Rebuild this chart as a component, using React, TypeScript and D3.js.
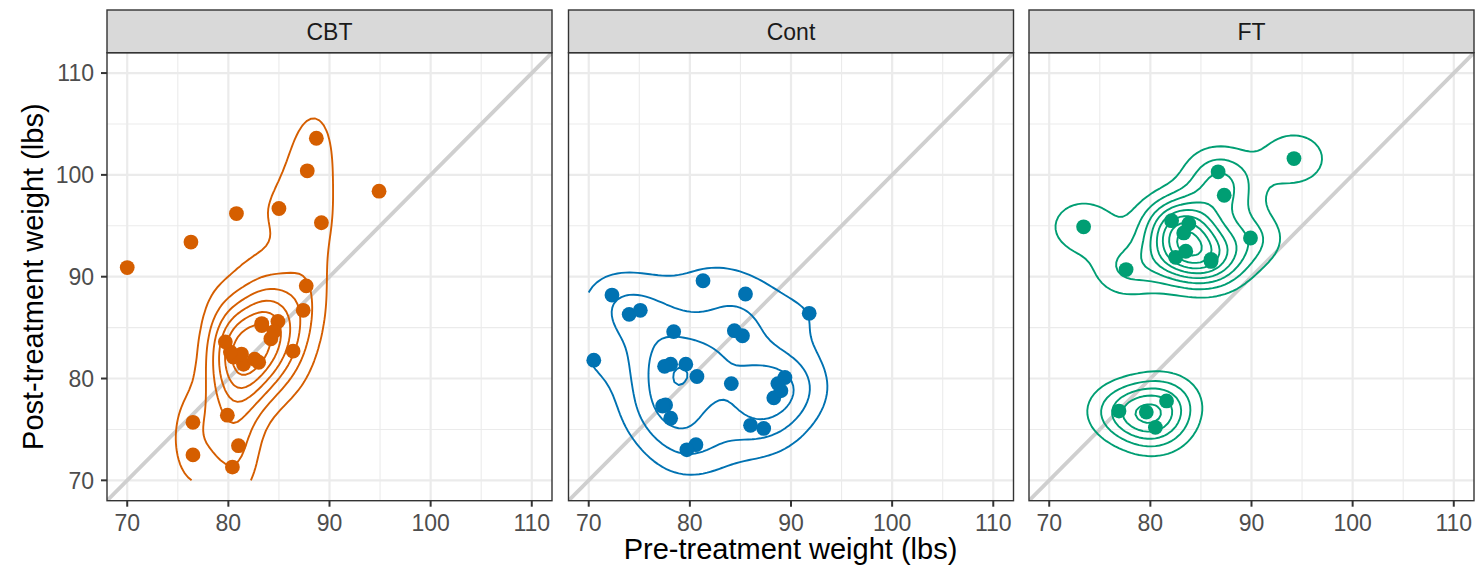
import React from "react";
import * as d3 from "d3";

// Anorexia treatment study: pre/post weights (lbs) by treatment group
const groups = ["CBT", "Cont", "FT"];

const cbtPre = [80.5, 84.9, 81.5, 82.6, 79.9, 88.7, 94.9, 76.3, 81.0, 80.5, 85.0, 89.2, 81.3, 76.5, 70.0, 80.4, 83.3, 83.0, 87.7, 84.2, 86.4, 76.5, 80.2, 87.8, 83.3, 79.7, 84.5, 80.8, 87.4];
const cbtPost = [82.2, 85.6, 81.4, 81.9, 76.4, 103.6, 98.4, 93.4, 73.4, 82.1, 96.7, 95.3, 82.4, 72.5, 90.9, 71.3, 85.4, 81.6, 89.1, 83.9, 82.7, 75.7, 82.6, 100.4, 85.2, 83.6, 84.6, 96.2, 86.7];

const contPre = [80.7, 89.4, 91.8, 74.0, 78.1, 88.3, 87.3, 75.1, 80.6, 78.4, 77.6, 88.7, 81.3, 78.1, 70.5, 77.3, 85.2, 86.0, 84.1, 79.7, 85.5, 84.4, 79.6, 77.5, 72.3, 89.0];
const contPost = [80.2, 80.1, 86.4, 86.3, 76.1, 78.1, 75.1, 86.7, 73.5, 84.6, 77.4, 79.5, 89.6, 81.4, 81.8, 77.3, 84.2, 75.4, 79.5, 73.0, 88.3, 84.7, 81.4, 81.2, 88.2, 78.8];

const ftPre = [83.8, 83.3, 86.0, 82.5, 86.7, 79.6, 76.9, 94.2, 73.4, 80.5, 81.6, 82.1, 77.6, 83.5, 89.9, 86.0, 87.3];
const ftPost = [95.2, 94.3, 91.5, 91.9, 100.3, 76.7, 76.8, 101.6, 94.9, 75.2, 77.8, 95.5, 90.7, 92.5, 93.8, 91.7, 98.0];

const groupColors = ["#D55E00", "#0072B2", "#009E73"];

const axisLimits = [70, 110];
const majorTicks = [70, 80, 90, 100, 110];
const minorTicks = [75, 85, 95, 105];

const xTitle = "Pre-treatment weight (lbs)";
const yTitle = "Post-treatment weight (lbs)";

// ---- layout ----
const W = 1477;
const H = 572;
const panelLefts = [107, 568.5, 1029];
const panelW = 445;
const panelTop = 52.7;
const panelBottom = 500.7;
const stripTop = 10;
const font = "'Liberation Sans', Arial, Helvetica, sans-serif";
const textSize = 23;
const titleSize = 29;

// ---- density estimation (bivariate normal kernel, normal-reference bandwidth) ----
function quantile7(sorted: number[], p: number) {
  const h = (sorted.length - 1) * p;
  const lo = Math.floor(h);
  const hi = Math.min(lo + 1, sorted.length - 1);
  return sorted[lo] + (h - lo) * (sorted[hi] - sorted[lo]);
}

function bandwidthNrd(x: number[]) {
  const s = [...x].sort((a, b) => a - b);
  const iqr = quantile7(s, 0.75) - quantile7(s, 0.25);
  const sd = d3.deviation(x) as number;
  return 4 * 1.06 * Math.min(sd, iqr / 1.34) * Math.pow(x.length, -0.2);
}

const dnorm = (u: number) => Math.exp(-0.5 * u * u) / Math.sqrt(2 * Math.PI);

const GRID_N = 100;

function kde2d(x: number[], y: number[]) {
  const hx = bandwidthNrd(x) / 4;
  const hy = bandwidthNrd(y) / 4;
  const [lo, hi] = axisLimits;
  const g = d3.range(GRID_N).map((i) => lo + (i * (hi - lo)) / (GRID_N - 1));
  const nx = x.length;
  const ax = g.map((gx) => x.map((xi) => dnorm((gx - xi) / hx)));
  const ay = g.map((gy) => y.map((yi) => dnorm((gy - yi) / hy)));
  const values = new Array(GRID_N * GRID_N);
  for (let j = 0; j < GRID_N; j++) {
    for (let i = 0; i < GRID_N; i++) {
      let s = 0;
      for (let k = 0; k < nx; k++) s += ax[i][k] * ay[j][k];
      values[j * GRID_N + i] = s / (nx * hx * hy);
    }
  }
  return values as number[];
}

// R-style pretty() breaks
function pretty(lo: number, up: number, ndiv = 10) {
  const h = 1.5;
  const h5 = 0.5 + 1.5 * h;
  const cell = (up - lo) / ndiv;
  const base = Math.pow(10, Math.floor(Math.log10(cell)));
  let unit = base;
  let ns = 2 * base;
  if (ns - cell < h * (cell - unit)) {
    unit = ns;
    ns = 5 * base;
    if (ns - cell < h5 * (cell - unit)) {
      unit = ns;
      ns = 10 * base;
      if (ns - cell < h * (cell - unit)) unit = ns;
    }
  }
  const a = Math.floor(lo / unit + 1e-7);
  const b = Math.ceil(up / unit - 1e-7);
  return d3.range(a, b + 1).map((k) => k * unit);
}

const groupData = [
  { pre: cbtPre, post: cbtPost },
  { pre: contPre, post: contPost },
  { pre: ftPre, post: ftPost },
];

const densities = groupData.map((d) => kde2d(d.pre, d.post));
let zMin = Infinity;
let zMax = -Infinity;
densities.forEach((v) => v.forEach((z) => { if (z < zMin) zMin = z; if (z > zMax) zMax = z; }));
const breaks = pretty(zMin, zMax, 10);

// Open isolines: contour rings with the grid-border stretches removed
function isolines(values: number[]): [number, number][][] {
  const gen = d3.contours().size([GRID_N, GRID_N]).thresholds(breaks).smooth(true);
  const res = gen(values);
  const step = (axisLimits[1] - axisLimits[0]) / (GRID_N - 1);
  const toData = (c: number[]): [number, number] => [
    axisLimits[0] + (c[0] - 0.5) * step,
    axisLimits[0] + (c[1] - 0.5) * step,
  ];
  const onEdge = (p: number[]) => p[0] <= 0 || p[0] >= GRID_N || p[1] <= 0 || p[1] >= GRID_N;
  const out: [number, number][][] = [];
  res.forEach((mp) => {
    if (mp.value <= 0) return;
    mp.coordinates.forEach((poly) =>
      poly.forEach((ring) => {
        const pts = ring.slice(0, -1);
        const start = pts.findIndex(onEdge);
        if (start < 0) {
          const closed = pts.map(toData);
          closed.push(closed[0]);
          out.push(closed);
          return;
        }
        let run: [number, number][] = [];
        for (let k = 1; k <= pts.length; k++) {
          const p = pts[(start + k) % pts.length];
          if (onEdge(p)) {
            if (run.length >= 2) out.push(run);
            run = [];
          } else run.push(toData(p));
        }
      })
    );
  });
  return out;
}

const contourLines = densities.map(isolines);

const yScale = d3.scaleLinear().domain([68, 112]).range([panelBottom, panelTop]);

function Panel({ index }: { index: number }) {
  const left = panelLefts[index];
  const xScale = d3.scaleLinear().domain([68, 112]).range([left, left + panelW]);
  const line = d3.line<[number, number]>().x((d) => xScale(d[0])).y((d) => yScale(d[1]));
  const color = groupColors[index];
  const { pre, post } = groupData[index];
  const clipId = `clip-${index}`;
  return (
    <g>
      <defs>
        <clipPath id={clipId}>
          <rect x={left} y={panelTop} width={panelW} height={panelBottom - panelTop} />
        </clipPath>
      </defs>
      <rect x={left} y={panelTop} width={panelW} height={panelBottom - panelTop} fill="#fff" />
      {minorTicks.map((t) => (
        <g key={`mn${t}`}>
          <line x1={xScale(t)} x2={xScale(t)} y1={panelTop} y2={panelBottom} stroke="#EBEBEB" strokeWidth={1.1} />
          <line x1={left} x2={left + panelW} y1={yScale(t)} y2={yScale(t)} stroke="#EBEBEB" strokeWidth={1.1} />
        </g>
      ))}
      {majorTicks.map((t) => (
        <g key={`mj${t}`}>
          <line x1={xScale(t)} x2={xScale(t)} y1={panelTop} y2={panelBottom} stroke="#EBEBEB" strokeWidth={2.2} />
          <line x1={left} x2={left + panelW} y1={yScale(t)} y2={yScale(t)} stroke="#EBEBEB" strokeWidth={2.2} />
        </g>
      ))}
      <g clipPath={`url(#${clipId})`}>
        <line x1={xScale(68)} y1={yScale(68)} x2={xScale(112)} y2={yScale(112)} stroke="#CFCFCF" strokeWidth={3.8} />
        {contourLines[index].map((l, i) => (
          <path key={i} d={line(l) as string} fill="none" stroke={color} strokeWidth={1.9} strokeLinejoin="round" strokeLinecap="butt" />
        ))}
        {pre.map((x, i) => (
          <circle key={i} cx={xScale(x)} cy={yScale(post[i])} r={7.4} fill={color} />
        ))}
      </g>
      <rect x={left} y={panelTop} width={panelW} height={panelBottom - panelTop} fill="none" stroke="#333333" strokeWidth={1.4} />
      {/* facet strip */}
      <rect x={left} y={stripTop} width={panelW} height={panelTop - stripTop} fill="#D9D9D9" stroke="#333333" strokeWidth={1.4} />
      <text x={left + panelW / 2} y={(stripTop + panelTop) / 2} dy="0.36em" textAnchor="middle" fontSize={textSize} fill="#1A1A1A" fontFamily={font}>
        {groups[index]}
      </text>
      {/* x axis */}
      {majorTicks.map((t) => (
        <g key={`xt${t}`}>
          <line x1={xScale(t)} x2={xScale(t)} y1={panelBottom} y2={panelBottom + 6} stroke="#333333" strokeWidth={2} />
          <text x={xScale(t)} y={530.5} textAnchor="middle" fontSize={textSize} fill="#4D4D4D" fontFamily={font}>
            {t}
          </text>
        </g>
      ))}
      {/* y axis on first panel only */}
      {index === 0 &&
        majorTicks.map((t) => (
          <g key={`yt${t}`}>
            <line x1={left - 6} x2={left} y1={yScale(t)} y2={yScale(t)} stroke="#333333" strokeWidth={2} />
            <text x={left - 13} y={yScale(t)} dy="0.36em" textAnchor="end" fontSize={textSize} fill="#4D4D4D" fontFamily={font}>
              {t}
            </text>
          </g>
        ))}
    </g>
  );
}

export default function App() {
  const yMid = (panelTop + panelBottom) / 2;
  const xMid = (panelLefts[0] + panelLefts[2] + panelW) / 2;
  return (
    <svg width={W} height={H} style={{ display: "block", position: "absolute", left: 0, top: 0, background: "#fff" }}>
      <rect x={0} y={0} width={W} height={H} fill="#fff" />
      {groups.map((g, i) => (
        <Panel key={g} index={i} />
      ))}
      <text x={xMid} y={559} textAnchor="middle" fontSize={titleSize} fill="#000" fontFamily={font}>
        {xTitle}
      </text>
      <text transform={`translate(43, ${yMid}) rotate(-90)`} textAnchor="middle" fontSize={titleSize} fill="#000" fontFamily={font}>
        {yTitle}
      </text>
    </svg>
  );
}
